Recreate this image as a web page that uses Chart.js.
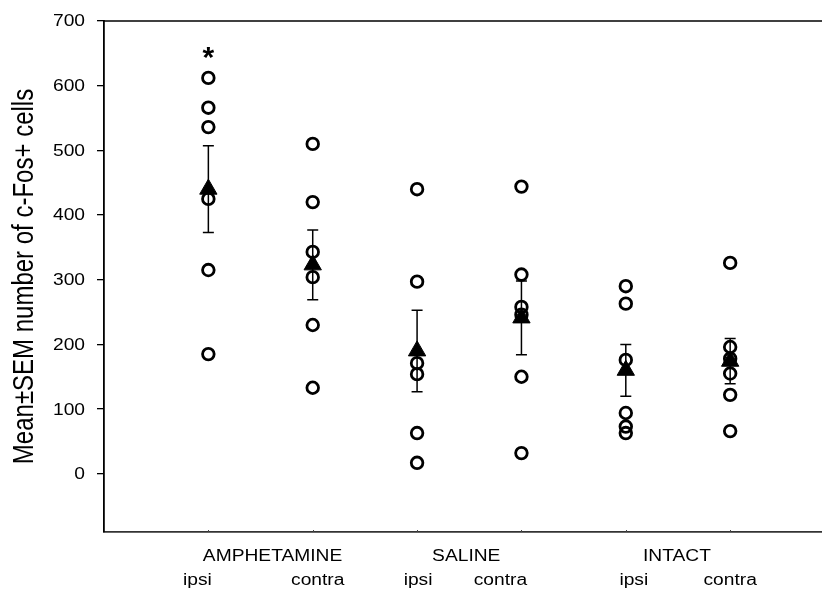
<!DOCTYPE html>
<html>
<head>
<meta charset="utf-8">
<script src="https://cdn.jsdelivr.net/npm/chart.js@4/dist/chart.umd.min.js"></script>
<style>
  html, body { margin: 0; padding: 0; background: #fff; }
  canvas { display: block; }
</style>
</head>
<body>
<canvas id="fos" width="822" height="592"></canvas>
<script>
// Treatment groups and hemisphere sides
const groups = ['AMPHETAMINE', 'SALINE', 'INTACT'];
const sides = ['ipsi', 'contra'];

// Individual animals: c-Fos+ cell counts per condition
const amphIpsi   = [612, 566, 536, 425, 315, 185];
const amphContra = [510, 420, 343, 304, 230, 133];
const salIpsi    = [440, 297, 171, 154, 63, 17];
const salContra  = [444, 308, 258, 246, 150, 32];
const intIpsi    = [290, 263, 176, 94, 73, 63];
const intContra  = [326, 196, 178, 155, 122, 66];

// Group mean and SEM, same condition order as above
const means = [440, 323, 190, 241, 160, 174];
const sems  = [67, 54, 63, 57, 40, 35];

// Significance marks per condition
const marks = ['*', '', '', '', '', ''];

// Value axis ticks
const yTicks = [0, 100, 200, 300, 400, 500, 600, 700];

const conditions = [amphIpsi, amphContra, salIpsi, salContra, intIpsi, intContra];

const FONT = '"Liberation Sans", Arial, Helvetica, sans-serif';
const SX = 1.2; // horizontal glyph stretch of the lettering

const animalPoints = [];
conditions.forEach((vals, i) => vals.forEach(v => animalPoints.push({ x: i + 1, y: v })));
const meanPoints = means.map((m, i) => ({ x: i + 1, y: m }));

function stretchedText(ctx, text, x, y, font, align, baseline, rotate) {
  ctx.save();
  ctx.translate(x, y);
  ctx.scale(SX, 1);
  if (rotate) ctx.rotate(-Math.PI / 2);
  ctx.font = font;
  ctx.textAlign = align;
  ctx.textBaseline = baseline;
  ctx.fillStyle = '#000';
  ctx.fillText(text, 0, 0);
  ctx.restore();
}

// Error bars, frame, minor x marks and all lettering
const decorations = {
  id: 'decorations',
  afterDatasetsDraw(chart) {
    const { ctx, scales: { x, y } } = chart;
    ctx.save();
    ctx.strokeStyle = '#000';
    ctx.lineWidth = 1.5;
    means.forEach((m, i) => {
      const px = x.getPixelForValue(i + 1);
      const top = y.getPixelForValue(m + sems[i]);
      const bot = y.getPixelForValue(m - sems[i]);
      ctx.beginPath();
      ctx.moveTo(px, top); ctx.lineTo(px, bot);
      ctx.moveTo(px - 5.5, top); ctx.lineTo(px + 5.5, top);
      ctx.moveTo(px - 5.5, bot); ctx.lineTo(px + 5.5, bot);
      ctx.stroke();
    });
    ctx.restore();
  },
  afterDraw(chart) {
    const { ctx, chartArea, scales: { x, y } } = chart;
    ctx.save();
    // top frame line
    ctx.strokeStyle = '#000';
    ctx.lineWidth = 1.3;
    ctx.beginPath();
    ctx.moveTo(chartArea.left, chartArea.top);
    ctx.lineTo(chartArea.right, chartArea.top);
    ctx.stroke();
    // small inward marks on the category axis
    ctx.strokeStyle = '#444';
    ctx.lineWidth = 1;
    for (let i = 1; i <= 6; i++) {
      const px = Math.round(x.getPixelForValue(i)) + 0.5;
      ctx.beginPath();
      ctx.moveTo(px, chartArea.bottom - 2);
      ctx.lineTo(px, chartArea.bottom);
      ctx.stroke();
    }
    ctx.restore();

    // value tick labels
    yTicks.forEach(v => {
      stretchedText(ctx, String(v), 85, y.getPixelForValue(v) + 1, '16px ' + FONT, 'right', 'middle');
    });

    // axis title
    const midY = (chartArea.top + chartArea.bottom) / 2;
    stretchedText(ctx, 'Mean\u00B1SEM number of c-Fos+ cells', 33, midY, '24px ' + FONT, 'center', 'alphabetic', true);

    // group and side labels
    const groupNudge = [12, -3, -1];
    const sideNudge = [-11, 5, 1, -21, 8, 0];
    groups.forEach((g, gi) => {
      const a = x.getPixelForValue(gi * 2 + 1);
      const b = x.getPixelForValue(gi * 2 + 2);
      stretchedText(ctx, g, (a + b) / 2 + groupNudge[gi], 561, '16px ' + FONT, 'center', 'alphabetic');
      sides.forEach((s, si) => {
        const k = gi * 2 + si;
        stretchedText(ctx, s, x.getPixelForValue(k + 1) + sideNudge[k], 585, '16px ' + FONT, 'center', 'alphabetic');
      });
    });

    // significance marks above the highest animal of a condition
    marks.forEach((m, i) => {
      if (!m) return;
      const px = x.getPixelForValue(i + 1);
      const py = y.getPixelForValue(Math.max(...conditions[i])) - 25;
      ctx.save();
      ctx.font = 'bold 30px ' + FONT;
      const mt = ctx.measureText(m);
      const off = (mt.actualBoundingBoxAscent - mt.actualBoundingBoxDescent) / 2;
      ctx.textAlign = 'center';
      ctx.textBaseline = 'alphabetic';
      ctx.fillStyle = '#000';
      ctx.fillText(m, px, py + off);
      ctx.restore();
    });
  }
};

new Chart(document.getElementById('fos'), {
  type: 'scatter',
  data: {
    datasets: [
      {
        label: 'mean',
        data: meanPoints,
        pointStyle: 'triangle',
        pointRadius: 10,
        pointBackgroundColor: '#000',
        pointBorderColor: '#000',
        pointBorderWidth: 1,
        order: 0
      },
      {
        label: 'animals',
        data: animalPoints,
        pointStyle: 'circle',
        pointRadius: 5.8,
        pointBackgroundColor: 'rgba(0,0,0,0)',
        pointBorderColor: '#000',
        pointBorderWidth: 2.8,
        order: 1
      }
    ]
  },
  options: {
    responsive: false,
    animation: false,
    events: [],
    layout: { autoPadding: false, padding: { top: 21, right: 0, bottom: 0, left: 0 } },
    plugins: { legend: { display: false }, tooltip: { enabled: false } },
    scales: {
      x: {
        type: 'linear',
        min: 0,
        max: 6.88,
        grid: { display: false },
        border: { display: true, color: '#333', width: 1.8 },
        ticks: { display: false },
        afterFit(s) { s.height = 60; }
      },
      y: {
        min: -90,
        max: 700,
        grid: { display: true, drawOnChartArea: false, drawTicks: true, tickLength: 7, color: '#000', lineWidth: 1.3 },
        border: { display: true, color: '#000', width: 1.8 },
        ticks: { display: false },
        afterBuildTicks(s) { s.ticks = yTicks.map(v => ({ value: v })); },
        afterFit(s) { s.width = 104; }
      }
    }
  },
  plugins: [decorations]
});
</script>
</body>
</html>
